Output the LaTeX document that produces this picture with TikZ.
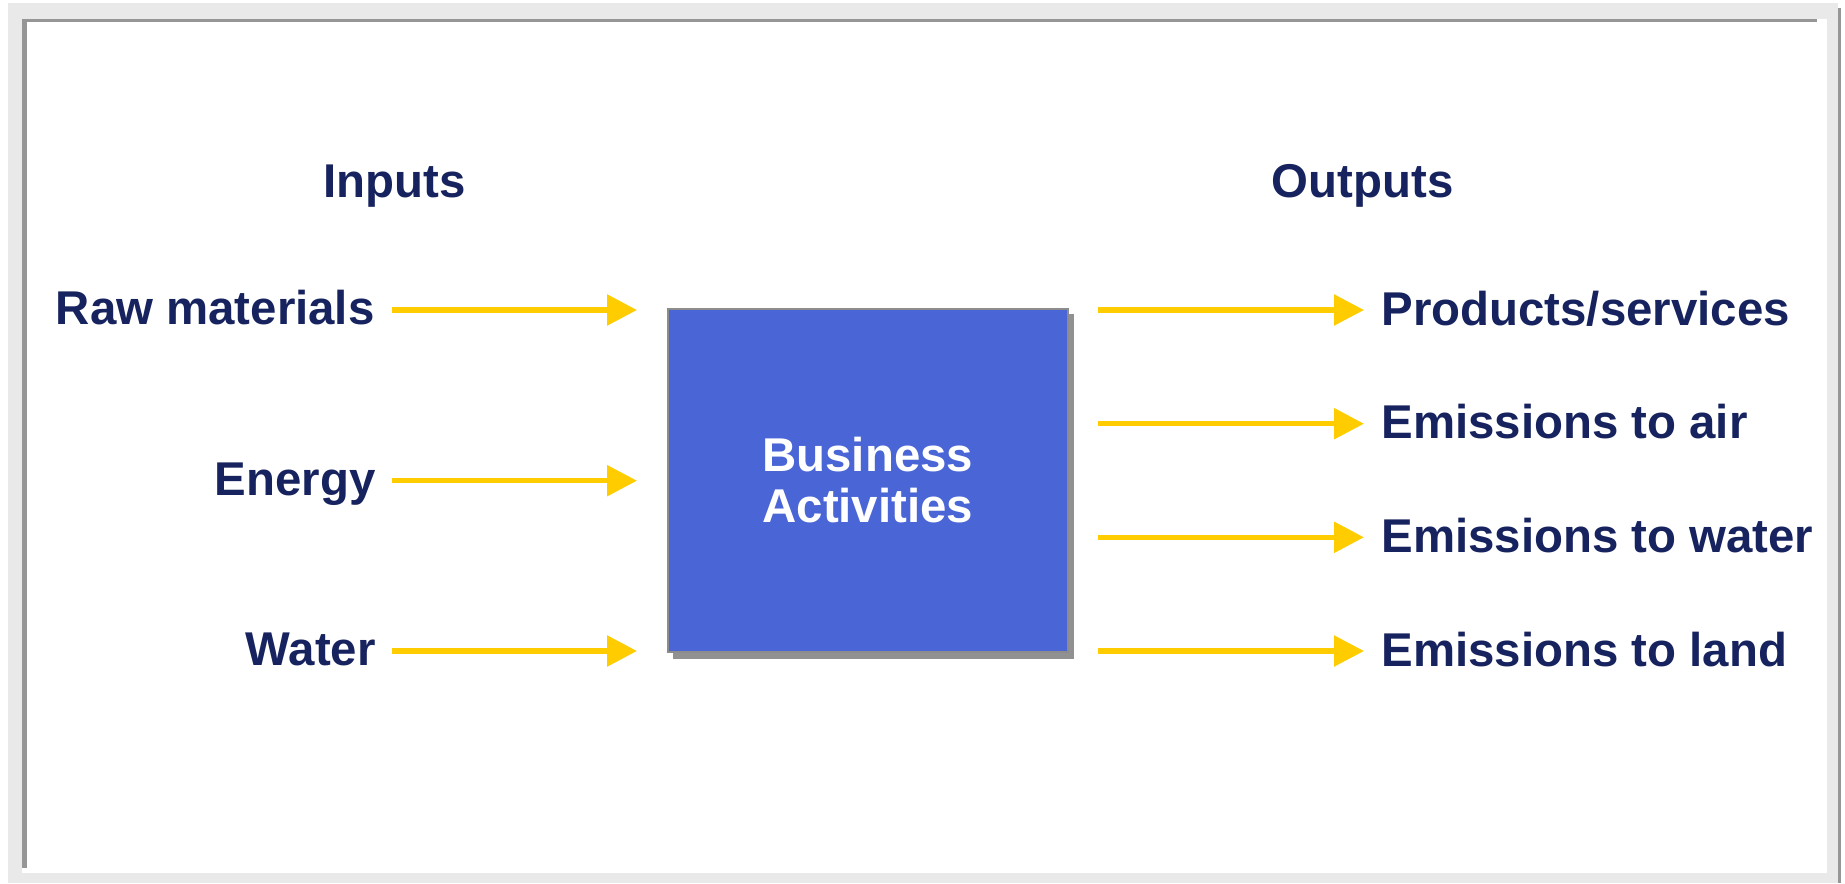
\documentclass[tikz,border=0pt]{standalone}
\usepackage{fontspec}
\setmainfont{Liberation Sans}
\usetikzlibrary{arrows.meta}
\definecolor{navy}{RGB}{23,35,94}
\definecolor{gold}{RGB}{255,204,0}
\definecolor{boxblue}{RGB}{74,102,214}
\definecolor{boxedge}{RGB}{140,140,140}
\definecolor{shadowgrey}{RGB}{145,145,145}
\definecolor{framelight}{RGB}{233,233,233}
\definecolor{framedark}{RGB}{150,150,150}
\begin{document}
\begin{tikzpicture}[x=0.5pt,y=-0.5pt,
  lbl/.style={inner sep=0pt,text=navy,font=\bfseries\fontsize{23.7}{28}\selectfont},
  inlbl/.style={lbl,anchor=base east},
  outlbl/.style={lbl,anchor=base west},
  headlbl/.style={lbl,anchor=base},
  boxlbl/.style={lbl,text=white,anchor=base},
  flow/.style={draw=gold,line width=2.75pt,-{Triangle[length=15pt,width=15pt]}}]
\useasboundingbox (0,0) rectangle (1845,883);
\fill[white] (0,0) rectangle (1845,883);
% frame
\fill[framelight] (8,3) rectangle (1838,883);
\fill[framedark] (1838,8) rectangle (1841,883);
\fill[white] (22,19) rectangle (1827,873);
\fill[framedark] (22,19) rectangle (1817,22);
\fill[framedark] (22,19) rectangle (27,868);
% central box
\fill[shadowgrey] (673,314) rectangle (1074,658.7);
\node[draw=boxedge,fill=boxblue,line width=1pt,minimum width=199.8pt,minimum height=171.5pt,inner sep=0pt] (box) at (867.8,480.5) {};
\node[boxlbl] (ba1) at (867.8,471.7) {Business};
\node[boxlbl] (ba2) at (867.8,522.7) {Activities};
% headings
\node[headlbl] (inputs) at (394.5,197.3) {Inputs};
\node[headlbl] (outputs) at (1362.7,197.3) {Outputs};
% input labels
\node[inlbl] (raw) at (375,324) {Raw materials};
\node[inlbl] (energy) at (376,495) {Energy};
\node[inlbl] (water) at (376,665.5) {Water};
% output labels
\node[outlbl] (prod) at (1381,325) {Products/services};
\node[outlbl] (air) at (1381,438.7) {Emissions to air};
\node[outlbl] (wat) at (1381,552.3) {Emissions to water};
\node[outlbl] (land) at (1381,666.5) {Emissions to land};
% arrow end points
\coordinate (i1s) at (392,310);   \coordinate (i1e) at (637,310);
\coordinate (i2s) at (392,480.7); \coordinate (i2e) at (637,480.7);
\coordinate (i3s) at (392,651);   \coordinate (i3e) at (637,651);
\coordinate (o1s) at (1098,310);  \coordinate (o1e) at (1364,310);
\coordinate (o2s) at (1098,423.7);\coordinate (o2e) at (1364,423.7);
\coordinate (o3s) at (1098,537.3);\coordinate (o3e) at (1364,537.3);
\coordinate (o4s) at (1098,651);  \coordinate (o4e) at (1364,651);
\draw[flow] (i1s) -- (i1e);
\draw[flow] (i2s) -- (i2e);
\draw[flow] (i3s) -- (i3e);
\draw[flow] (o1s) -- (o1e);
\draw[flow] (o2s) -- (o2e);
\draw[flow] (o3s) -- (o3e);
\draw[flow] (o4s) -- (o4e);
\end{tikzpicture}
\end{document}
